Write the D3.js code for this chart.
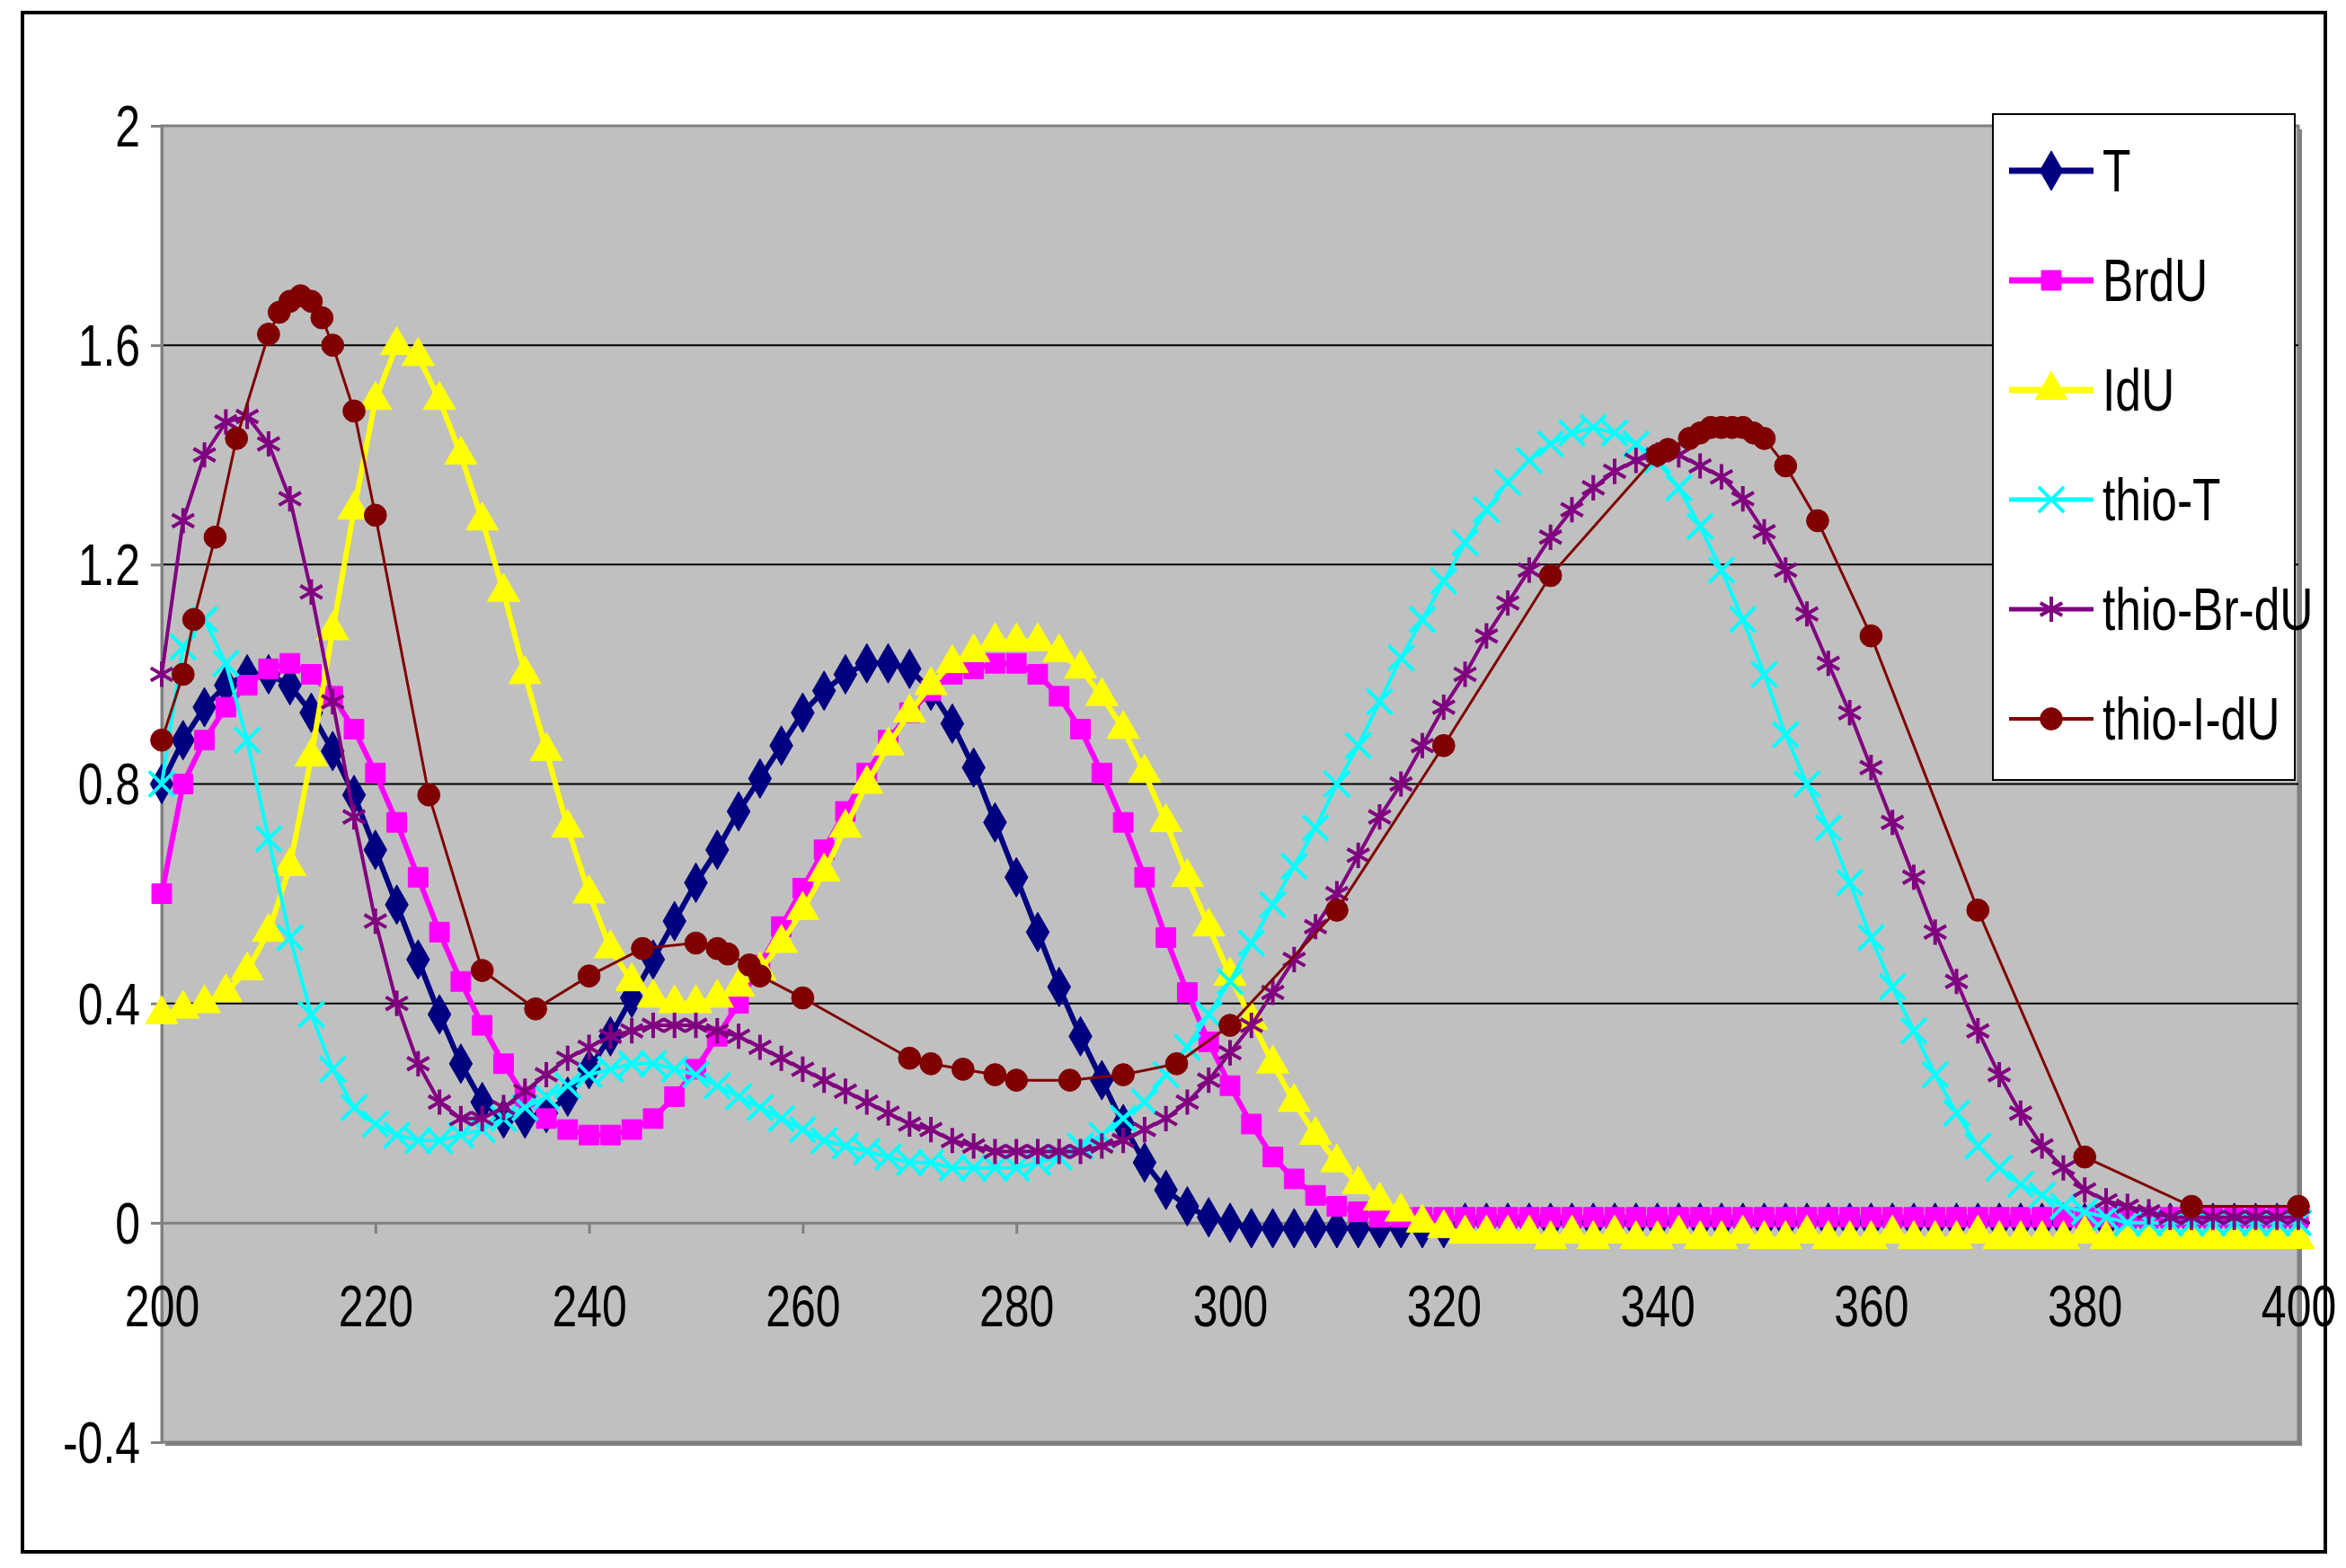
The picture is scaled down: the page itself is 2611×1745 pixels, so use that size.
<!DOCTYPE html>
<html>
<head>
<meta charset="utf-8">
<script src="https://cdn.jsdelivr.net/npm/d3@7"></script>
<style>
  body { margin: 0; background: #fff; }
  text { font-family: "Liberation Sans", Arial, sans-serif; }
</style>
</head>
<body>
<script>
// wavelengths (nm) for the densely sampled series
const wl = d3.range(200, 401, 2);

const T = [0.80,0.88,0.94,0.98,1.00,1.00,0.98,0.93,0.86,0.78,0.68,0.58,0.48,0.38,0.29,0.22,0.19,0.19,0.20,0.23,
  0.28,0.34,0.41,0.48,0.55,0.62,0.68,0.75,0.81,0.87,0.93,0.97,1.00,1.02,1.02,1.01,0.97,0.91,0.83,0.73,
  0.63,0.53,0.43,0.34,0.26,0.18,0.11,0.06,0.03,0.01,0.00,-0.01,-0.01,-0.01,-0.01,-0.01,-0.01,-0.01,-0.01,-0.01,
  -0.01,0,0,0,0,0,0,0,0,0,0,0,0,0,0,0,0,0,0,0,0,0,0,0,0,0,0,0,0,0,0,0,0,0,0,0,0,0,0,0,0];
const BrdU = [0.60,0.80,0.88,0.94,0.98,1.01,1.02,1.00,0.96,0.90,0.82,0.73,0.63,0.53,0.44,0.36,0.29,0.23,0.19,0.17,
  0.16,0.16,0.17,0.19,0.23,0.28,0.34,0.40,0.47,0.54,0.61,0.68,0.75,0.82,0.88,0.93,0.97,1.00,1.01,1.02,
  1.02,1.00,0.96,0.90,0.82,0.73,0.63,0.52,0.42,0.33,0.25,0.18,0.12,0.08,0.05,0.03,0.02,0.01,0.01,0.01,
  0.01,0.01,0.01,0.01,0.01,0.01,0.01,0.01,0.01,0.01,0.01,0.01,0.01,0.01,0.01,0.01,0.01,0.01,0.01,0.01,
  0.01,0.01,0.01,0.01,0.01,0.01,0.01,0.01,0.01,0.01,0.01,0.01,0.01,0.01,0.01,0.01,0.01,0.01,0.01,0.01,0.01];
const IdU = [0.38,0.39,0.40,0.42,0.46,0.53,0.65,0.85,1.08,1.30,1.50,1.60,1.58,1.50,1.40,1.28,1.15,1.00,0.86,0.72,
  0.60,0.50,0.44,0.41,0.40,0.40,0.41,0.43,0.46,0.51,0.57,0.64,0.72,0.80,0.87,0.93,0.98,1.02,1.04,1.06,
  1.06,1.06,1.04,1.01,0.96,0.90,0.82,0.73,0.63,0.54,0.45,0.37,0.29,0.22,0.16,0.11,0.07,0.04,0.02,0.00,
  -0.01,-0.02,-0.02,-0.02,-0.02,-0.03,-0.02,-0.03,-0.02,-0.03,-0.03,-0.02,-0.03,-0.03,-0.02,-0.03,-0.03,-0.02,-0.03,-0.03,
  -0.03,-0.02,-0.03,-0.03,-0.03,-0.02,-0.03,-0.03,-0.03,-0.03,-0.02,-0.03,-0.03,-0.03,-0.03,-0.03,-0.03,-0.03,-0.03,-0.03,-0.03];
const thioT = [0.80,1.05,1.10,1.02,0.88,0.70,0.52,0.38,0.28,0.21,0.18,0.16,0.15,0.15,0.16,0.17,0.19,0.21,0.23,0.25,
  0.27,0.28,0.29,0.29,0.28,0.27,0.25,0.23,0.21,0.19,0.17,0.15,0.14,0.13,0.12,0.11,0.11,0.10,0.10,0.10,
  0.10,0.11,0.12,0.14,0.16,0.19,0.22,0.27,0.32,0.38,0.44,0.51,0.58,0.65,0.72,0.80,0.87,0.95,1.03,1.10,
  1.17,1.24,1.30,1.35,1.39,1.42,1.44,1.45,1.44,1.42,1.39,1.34,1.27,1.19,1.10,1.00,0.89,0.80,0.72,0.62,
  0.52,0.43,0.35,0.27,0.20,0.14,0.10,0.07,0.05,0.03,0.02,0.01,0.00,0.00,0.00,0.00,0.00,0.00,0.00,0.00,0.00];
const thioBrdU = [1.00,1.28,1.40,1.46,1.47,1.42,1.32,1.15,0.95,0.74,0.55,0.40,0.29,0.22,0.19,0.19,0.21,0.24,0.27,0.30,
  0.32,0.34,0.35,0.36,0.36,0.36,0.35,0.34,0.32,0.30,0.28,0.26,0.24,0.22,0.20,0.18,0.17,0.15,0.14,0.13,
  0.13,0.13,0.13,0.13,0.14,0.15,0.17,0.19,0.22,0.26,0.31,0.36,0.42,0.48,0.54,0.60,0.67,0.74,0.80,0.87,
  0.94,1.00,1.07,1.13,1.19,1.25,1.30,1.34,1.37,1.39,1.40,1.40,1.38,1.36,1.32,1.26,1.19,1.11,1.02,0.93,
  0.83,0.73,0.63,0.53,0.44,0.35,0.27,0.20,0.14,0.10,0.06,0.04,0.03,0.02,0.01,0.01,0.01,0.01,0.01,0.01,0.01];

// thio-I-dU has its own sparser sampling
const thioIdU_x = [200,202,203,205,207,210,211,212,213,214,215,216,218,220,225,230,235,240,245,250,252,253,255,256,
  260,270,272,275,278,280,285,290,295,300,310,320,330,340,341,343,344,345,346,347,348,349,350,352,355,360,370,380,390,400];
const thioIdU = [0.88,1.00,1.10,1.25,1.43,1.62,1.66,1.68,1.69,1.68,1.65,1.60,1.48,1.29,0.78,0.46,0.39,0.45,0.50,0.51,0.50,0.49,0.47,0.45,
  0.41,0.30,0.29,0.28,0.27,0.26,0.26,0.27,0.29,0.36,0.57,0.87,1.18,1.40,1.41,1.43,1.44,1.45,1.45,1.45,1.45,1.44,1.43,1.38,1.28,1.07,0.57,0.12,0.03,0.03];

const xTicks = d3.range(200, 401, 20);
const yTicks = [-0.4, 0, 0.4, 0.8, 1.2, 1.6, 2];

const series = [
  { name: "T", xs: wl, ys: T, color: "#000080", sym: d3.symbolDiamond, size: 560, fill: true, w: 6 },
  { name: "BrdU", xs: wl, ys: BrdU, color: "#ff00ff", sym: d3.symbolSquare, size: 480, fill: true, w: 6 },
  { name: "IdU", xs: wl, ys: IdU, color: "#ffff00", sym: d3.symbolTriangle, size: 560, fill: true, w: 6 },
  { name: "thio-T", xs: wl, ys: thioT, color: "#00ffff", sym: d3.symbolTimes, size: 520, fill: false, w: 4 },
  { name: "thio-Br-dU", xs: wl, ys: thioBrdU, color: "#800080", sym: d3.symbolAsterisk, size: 560, fill: false, w: 4 },
  { name: "thio-I-dU", xs: thioIdU_x, ys: thioIdU, color: "#800000", sym: d3.symbolCircle, size: 480, fill: true, w: 3 }
];

const W = 2611, H = 1745;
const plot = { left: 180, right: 2558, top: 140, bottom: 1605 };
const squeeze = 0.78; // condensed look of the original labels

const svg = d3.select("body").append("svg").attr("width", W).attr("height", H);

// outer frame
svg.append("rect").attr("x", 25).attr("y", 14).attr("width", 2563).attr("height", 1713)
  .attr("fill", "#fff").attr("stroke", "#000").attr("stroke-width", 4);

const x = d3.scaleLinear().domain([200, 400]).range([plot.left, plot.right]);
const y = d3.scaleLinear().domain([-0.4, 2]).range([plot.bottom, plot.top]);

// plot area with a little shadow
svg.append("rect").attr("x", plot.left + 4).attr("y", plot.top + 4)
  .attr("width", plot.right - plot.left).attr("height", plot.bottom - plot.top).attr("fill", "#808080");
svg.append("rect").attr("x", plot.left).attr("y", plot.top)
  .attr("width", plot.right - plot.left).attr("height", plot.bottom - plot.top)
  .attr("fill", "#c0c0c0").attr("stroke", "#808080").attr("stroke-width", 3);

// gridlines
svg.append("g").selectAll("line").data(yTicks.filter(d => d > -0.4 && d < 2 && d !== 0)).enter().append("line")
  .attr("x1", plot.left).attr("x2", plot.right)
  .attr("y1", d => y(d)).attr("y2", d => y(d))
  .attr("stroke", "#000").attr("stroke-width", 2);

function condense(sel, font) {
  sel.each(function () {
    const t = d3.select(this);
    const ax = +t.attr("x") || 0;
    t.attr("font-size", font).attr("fill", "#000")
      .attr("transform", `translate(${ax},0) scale(${squeeze},1) translate(${-ax},0)`);
  });
}

// y axis
const yAxis = svg.append("g").attr("transform", `translate(${plot.left},0)`)
  .call(d3.axisLeft(y).tickValues(yTicks).tickSize(12).tickFormat(d => String(+d.toFixed(1))));
yAxis.select(".domain").attr("stroke", "#808080").attr("stroke-width", 3);
yAxis.selectAll(".tick line").attr("stroke", "#808080").attr("stroke-width", 3);
yAxis.selectAll("text").attr("x", -24).attr("dy", "0.35em");
condense(yAxis.selectAll("text"), 64);

// x axis at zero
const xAxis = svg.append("g").attr("transform", `translate(0,${y(0)})`)
  .call(d3.axisBottom(x).tickValues(xTicks).tickSize(12));
xAxis.select(".domain").attr("stroke", "#808080").attr("stroke-width", 3);
xAxis.selectAll(".tick line").attr("stroke", "#808080").attr("stroke-width", 3);
xAxis.selectAll("text").attr("y", 70);
condense(xAxis.selectAll("text"), 64);

function drawMarkers(g, s, pts) {
  g.selectAll("path.m").data(pts).enter().append("path")
    .attr("class", "m")
    .attr("transform", d => `translate(${d[0]},${d[1]})`)
    .attr("d", d3.symbol().type(s.sym).size(s.size))
    .attr("fill", s.fill ? s.color : "none")
    .attr("stroke", s.color)
    .attr("stroke-width", s.fill ? 1 : 4);
}

const line = d3.line().x(d => x(d[0])).y(d => y(d[1]));

series.forEach(s => {
  const pts = s.xs.map((v, i) => [v, s.ys[i]]);
  const g = svg.append("g");
  g.append("path").datum(pts).attr("d", line)
    .attr("fill", "none").attr("stroke", s.color).attr("stroke-width", s.w);
  drawMarkers(g, s, pts.map(p => [x(p[0]), y(p[1])]));
});

// legend
const lg = svg.append("g");
lg.append("rect").attr("x", 2218).attr("y", 127).attr("width", 336).attr("height", 741)
  .attr("fill", "#fff").attr("stroke", "#000").attr("stroke-width", 2);
series.forEach((s, i) => {
  const cy = 190 + i * 122;
  lg.append("line").attr("x1", 2236).attr("x2", 2330).attr("y1", cy).attr("y2", cy)
    .attr("stroke", s.color).attr("stroke-width", s.w + 1);
  drawMarkers(lg.append("g"), s, [[2283, cy]]);
  const t = lg.append("text").attr("x", 2340).attr("y", cy).attr("dy", "0.35em").text(s.name);
  condense(t, 66);
});
</script>
</body>
</html>
